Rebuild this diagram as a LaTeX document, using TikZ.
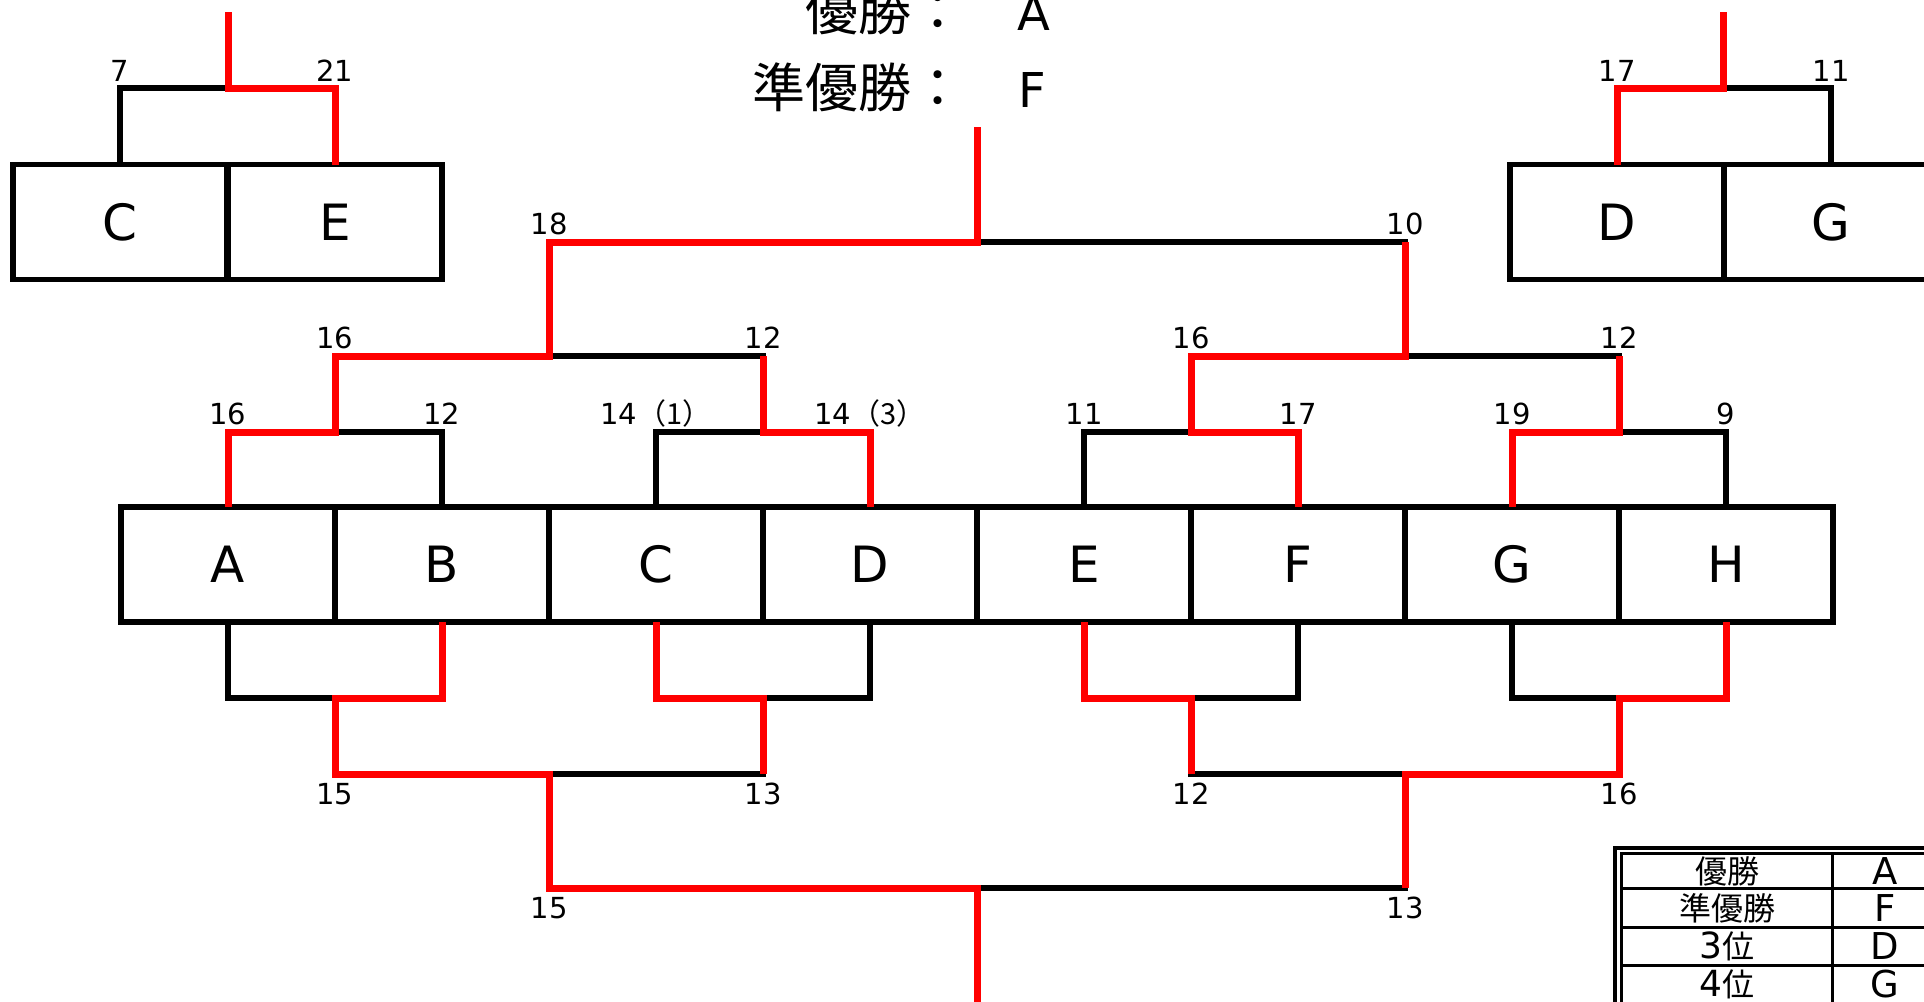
\documentclass[tikz,border=0pt]{standalone}
\usepackage{fontspec}
\setmainfont{DejaVu Sans}
\newfontfamily\cjk{Noto Sans CJK JP}
\begin{document}
\begin{tikzpicture}[x=1pt,y=-1pt,
  cell/.style={draw,line width=5.5pt,minimum width=214pt,minimum height=115pt,inner sep=0pt,outer sep=0pt,font=\fontsize{50}{60}\selectfont},
  blk/.style={line width=5.5pt,black,line join=miter},
  win/.style={line width=7pt,red,line join=miter},
  lbl/.style={anchor=base,inner sep=0pt,font=\fontsize{29}{34}\selectfont},
  hdr/.style={anchor=base east,inner sep=0pt,font=\cjk\fontsize{53}{60}\selectfont},
  hdrv/.style={anchor=base west,inner sep=0pt,font=\fontsize{48}{56}\selectfont},
  tbl/.style={line width=3pt},
  tj/.style={inner sep=0pt,font=\cjk\fontsize{32}{36}\selectfont},
  tv/.style={inner sep=0pt,font=\fontsize{37}{42}\selectfont}]
\useasboundingbox (0,0) rectangle (1924,1001);
\clip (0,0) rectangle (1924,1001);

% header
\node[hdr]  (h1)  at (965,30)  {優勝：};
\node[hdrv] (h1v) at (1017,30) {A};
\node[hdr]  (h2)  at (965,107) {準優勝：};
\node[hdrv] (h2v) at (1018,107) {F};

% main cells
\foreach \n/\x in {A/228,B/442,C/656,D/870,E/1084,F/1298,G/1512,H/1726}
  \node[cell] (c\n) at (\x,564.5) {\n};
% small boxes
\node[cell] (tlC) at (120,222) {C};
\node[cell] (tlE) at (335,222) {E};
\node[cell] (trD) at (1617,222) {D};
\node[cell] (trG) at (1831,222) {G};

% junction coordinates
\coordinate (m1) at (335,432);
\coordinate (m2) at (763,432);
\coordinate (m3) at (1191,432);
\coordinate (m4) at (1619,432);
\coordinate (s1) at (549,356);
\coordinate (s2) at (1405,356);
\coordinate (fin) at (977,242);
\coordinate (champ) at (977,127);
\coordinate (b1) at (335,698);
\coordinate (b2) at (763,698);
\coordinate (b3) at (1191,698);
\coordinate (b4) at (1619,698);
\coordinate (bs1) at (549,774);
\coordinate (bs2) at (1405,774);
\coordinate (bf) at (977,888);
\coordinate (bend) at (977,1010);
\coordinate (tlm) at (228,88);
\coordinate (tltop) at (228,12);
\coordinate (trm) at (1723,88);
\coordinate (trtop) at (1723,12);

% black brackets
\draw[blk] (cA.north) |- (m1) -| (cB.north);
\draw[blk] (cC.north) |- (m2) -| (cD.north);
\draw[blk] (cE.north) |- (m3) -| (cF.north);
\draw[blk] (cG.north) |- (m4) -| (cH.north);
\draw[blk] (m1) |- (s1) -| (m2);
\draw[blk] (m3) |- (s2) -| (m4);
\draw[blk] (s1) |- (fin) -| (s2);
\draw[blk] (cA.south) |- (b1) -| (cB.south);
\draw[blk] (cC.south) |- (b2) -| (cD.south);
\draw[blk] (cE.south) |- (b3) -| (cF.south);
\draw[blk] (cG.south) |- (b4) -| (cH.south);
\draw[blk] (b1) |- (bs1) -| (b2);
\draw[blk] (b3) |- (bs2) -| (b4);
\draw[blk] (bs1) |- (bf) -| (bs2);
\draw[blk] (tlC.north) |- (tlm) -| (tlE.north);
\draw[blk] (trD.north) |- (trm) -| (trG.north);

% red winner paths
\draw[win] (cA.north) |- (m1) |- (s1) |- (fin) -- (champ);
\draw[win] (cD.north) |- (m2) -- (m2 |- s1);
\draw[win] (cF.north) |- (m3) |- (s2) -- (s2 |- fin);
\draw[win] (cG.north) |- (m4) -- (m4 |- s2);
\draw[win] (cB.south) |- (b1) |- (bs1) |- (bf) -- (bend);
\draw[win] (cC.south) |- (b2) -- (b2 |- bs1);
\draw[win] (cE.south) |- (b3) -- (b3 |- bs2);
\draw[win] (cH.south) |- (b4) |- (bs2) -- (bs2 |- bf);
\draw[win] (tlE.north) |- (tlm) -- (tltop);
\draw[win] (trD.north) |- (trm) -- (trtop);

% score labels
\node[lbl] (l01) at (120,81) {7};
\node[lbl] (l02) at (335,81) {21};
\node[lbl] (l03) at (1617,81) {17};
\node[lbl] (l04) at (1831,81) {11};
\node[lbl] (l05) at (549,234) {18};
\node[lbl] (l06) at (1405,234) {10};
\node[lbl] (l07) at (335,348) {16};
\node[lbl] (l08) at (763,348) {12};
\node[lbl] (l09) at (1191,348) {16};
\node[lbl] (l10) at (1619,348) {12};
\node[lbl] (l11) at (228,424) {16};
\node[lbl] (l12) at (442,424) {12};
\node[lbl] (l13) at (656,424) {14{\cjk （1）}};
\node[lbl] (l14) at (870,424) {14{\cjk （3）}};
\node[lbl] (l15) at (1084,424) {11};
\node[lbl] (l16) at (1298,424) {17};
\node[lbl] (l17) at (1512,424) {19};
\node[lbl] (l18) at (1726,424) {9};
\node[lbl] (l19) at (335,804) {15};
\node[lbl] (l20) at (763,804) {13};
\node[lbl] (l21) at (1191,804) {12};
\node[lbl] (l22) at (1619,804) {16};
\node[lbl] (l23) at (549,918) {15};
\node[lbl] (l24) at (1405,918) {13};

% ranking table
\draw[line width=3.5pt] (1615,848) rectangle (2000,1100);
\draw[tbl] (1621,853) rectangle (1995,1100);
\draw[tbl] (1621,888) -- (1995,888);
\draw[tbl] (1621,927) -- (1995,927);
\draw[tbl] (1621,965) -- (1995,965);
\draw[tbl] (1621,1003) -- (1995,1003);
\draw[tbl] (1832,853) -- (1832,1100);
\node[tj] (t1) at (1727,871) {優勝};
\node[tj] (t2) at (1727,908) {準優勝};
\node[tj] (t3) at (1727,946) {{\normalfont\fontsize{36}{40}\selectfont 3}位};
\node[tj] (t4) at (1727,984) {{\normalfont\fontsize{36}{40}\selectfont 4}位};
\node[tv] (v1) at (1885,871) {A};
\node[tv] (v2) at (1885,908) {F};
\node[tv] (v3) at (1885,946) {D};
\node[tv] (v4) at (1885,984) {G};
\end{tikzpicture}
\end{document}
